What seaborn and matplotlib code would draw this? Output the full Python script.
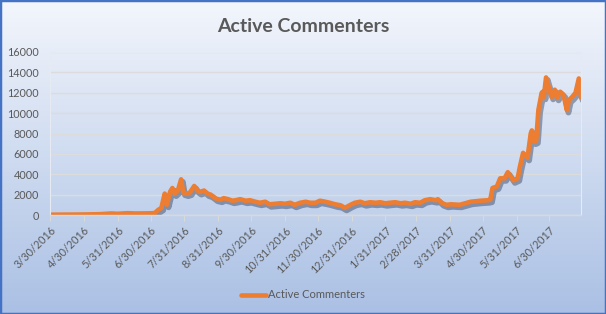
import numpy as np
import pandas as pd
import matplotlib
matplotlib.use("Agg")
import matplotlib.pyplot as plt
import matplotlib.patheffects as pe
from matplotlib.patches import Rectangle
import seaborn as sns

# ---- data ----
dates = [
    "2016-03-30", "2016-04-17", "2016-04-30", "2016-05-15", "2016-05-25", "2016-05-31",
    "2016-06-09", "2016-06-16", "2016-06-25", "2016-07-01", "2016-07-04", "2016-07-07",
    "2016-07-10", "2016-07-11", "2016-07-13", "2016-07-15", "2016-07-18", "2016-07-20",
    "2016-07-22", "2016-07-25", "2016-07-28", "2016-07-30", "2016-08-02", "2016-08-05",
    "2016-08-09", "2016-08-12", "2016-08-14", "2016-08-18", "2016-08-21", "2016-08-24",
    "2016-08-26", "2016-08-29", "2016-09-02", "2016-09-05", "2016-09-09", "2016-09-13",
    "2016-09-16", "2016-09-20", "2016-09-25", "2016-09-29", "2016-10-04", "2016-10-08",
    "2016-10-13", "2016-10-17", "2016-10-22", "2016-10-27", "2016-10-31", "2016-11-05",
    "2016-11-09", "2016-11-14", "2016-11-19", "2016-11-23", "2016-11-28", "2016-12-02",
    "2016-12-07", "2016-12-11", "2016-12-16", "2016-12-21", "2016-12-25", "2016-12-30",
    "2017-01-03", "2017-01-08", "2017-01-12", "2017-01-17", "2017-01-22", "2017-01-26",
    "2017-01-31", "2017-02-04", "2017-02-09", "2017-02-14", "2017-02-18", "2017-02-23",
    "2017-02-27", "2017-03-04", "2017-03-08", "2017-03-13", "2017-03-18", "2017-03-20",
    "2017-03-24", "2017-03-28", "2017-04-01", "2017-04-09", "2017-04-19", "2017-04-28",
    "2017-05-05", "2017-05-07", "2017-05-09", "2017-05-13", "2017-05-16", "2017-05-20",
    "2017-05-23", "2017-05-28", "2017-06-01", "2017-06-03", "2017-06-06", "2017-06-10",
    "2017-06-13", "2017-06-14", "2017-06-16", "2017-06-18", "2017-06-20", "2017-06-23",
    "2017-06-24", "2017-06-25", "2017-06-27", "2017-06-30", "2017-07-02", "2017-07-05",
    "2017-07-07", "2017-07-10", "2017-07-13", "2017-07-16", "2017-07-18", "2017-07-21",
    "2017-07-24", "2017-07-27", "2017-07-29",
]
active_commenters = [
    30, 40, 50, 80, 150, 120,
    180, 150, 160, 170, 200, 500,
    700, 1200, 2100, 1000, 2300, 2650,
    2100, 2400, 3500, 2200, 2100, 2200,
    2850, 2400, 2250, 2400, 2100, 2000,
    1850, 1600, 1500, 1650, 1550, 1400,
    1450, 1550, 1400, 1450, 1300, 1200,
    1300, 1050, 1100, 1150, 1100, 1200,
    1000, 1200, 1300, 1200, 1200, 1400,
    1300, 1200, 1050, 950, 700, 1000,
    1200, 1300, 1150, 1250, 1200, 1250,
    1150, 1200, 1250, 1150, 1200, 1100,
    1250, 1200, 1450, 1550, 1450, 1550,
    1150, 1000, 1050, 1000, 1300, 1400,
    1450, 1500, 2650, 2800, 3600, 3600,
    4200, 3400, 3600, 4700, 6100, 5600,
    8000, 8300, 7200, 7300, 10300, 12000,
    12100, 11600, 13500, 12400, 11600, 12300,
    11500, 12100, 11800, 10300, 11300, 11600,
    12000, 13400, 11500,
]
tick_dates = [
    "2016-03-30", "2016-04-30", "2016-05-31", "2016-06-30", "2016-07-31", "2016-08-31",
    "2016-09-30", "2016-10-31", "2016-11-30", "2016-12-31", "2017-01-31", "2017-02-28",
    "2017-03-31", "2017-04-30", "2017-05-31", "2017-06-30",
]
tick_labels = [
    "3/30/2016", "4/30/2016", "5/31/2016", "6/30/2016", "7/31/2016", "8/31/2016",
    "9/30/2016", "10/31/2016", "11/30/2016", "12/31/2016", "1/31/2017", "2/28/2017",
    "3/31/2017", "4/30/2017", "5/31/2017", "6/30/2017",
]
y_ticks = [0, 2000, 4000, 6000, 8000, 10000, 12000, 14000, 16000]
series_name = "Active Commenters"
title = "Active Commenters"

df = pd.DataFrame({"date": pd.to_datetime(dates), series_name: active_commenters})

sns.set_theme(style="white")
plt.rcParams["font.family"] = ["Lato", "DejaVu Sans"]

W, H = 606, 314
fig = plt.figure(figsize=(W / 100, H / 100), dpi=100)

# gradient background
bg = fig.add_axes([0, 0, 1, 1], zorder=-10)
top = np.array([243, 246, 252]) / 255
bot = np.array([170, 192, 228]) / 255
t = np.linspace(0, 1, 256)[:, None]
grad = (top[None, :] * (1 - t) + bot[None, :] * t)[:, None, :]
bg.imshow(grad, aspect="auto", extent=[0, 1, 0, 1], origin="upper")
bg.set_axis_off()

left, right = 50 / W, 581 / W
bottom, topy = 1 - 215 / H, 1 - 52 / H
ax = fig.add_axes([left, bottom, right - left, topy - bottom])
ax.set_facecolor("none")

sns.lineplot(data=df, x="date", y=series_name, ax=ax, color="#ED7D31",
             linewidth=3.3, label=series_name, legend=False)
line = ax.lines[0]
line.set_path_effects([
    pe.SimpleLineShadow(offset=(1.2, -1.8), shadow_color="#1c2a4a", alpha=0.4, linewidth=4.2),
    pe.Normal(),
])
line.set_solid_joinstyle("round")
line.set_solid_capstyle("round")

ax.set_ylim(0, 16000)
ax.set_xlim(pd.Timestamp(tick_dates[0]), pd.Timestamp(dates[-1]))
ax.set_yticks(y_ticks)
ax.set_yticklabels([str(v) for v in y_ticks], fontsize=7.8, color="#595959")
ax.set_xticks(pd.to_datetime(tick_dates))
ax.set_xticklabels(tick_labels, fontsize=7.8, color="#595959",
                   rotation=45, ha="right", va="top", rotation_mode="anchor")
ax.tick_params(axis="x", length=4, width=0.8, color="#d9d9d9", pad=3, direction="out", bottom=True)
ax.tick_params(axis="y", length=0, pad=8)
ax.grid(axis="y", color="#dcdcdc", linewidth=1)
ax.set_axisbelow(True)
for s in ["left", "right", "top"]:
    ax.spines[s].set_color("#e6eaf2")
    ax.spines[s].set_linewidth(0.8)
ax.spines["bottom"].set_color("#d9d9d9")
ax.spines["bottom"].set_linewidth(1)
ax.set_xlabel("")
ax.set_ylabel("")

fig.text(0.5, 1 - 26 / H, title, ha="center", va="center", fontsize=14,
         fontweight="bold", color="#595959")

handles, labels = ax.get_legend_handles_labels()
leg = fig.legend(handles, labels, loc="center", bbox_to_anchor=(0.5, 1 - 295 / H),
                 frameon=False, fontsize=8, handlelength=2.2, handletextpad=0.2)
for txt in leg.get_texts():
    txt.set_color("#595959")
for lh in leg.get_lines():
    lh.set_linewidth(3.3)
    lh.set_path_effects([pe.Normal()])

fig.patches.append(Rectangle((0, 0), 1, 1, transform=fig.transFigure, fill=False,
                             edgecolor="#4472C4", linewidth=2.5, zorder=100))

fig.savefig("out.png", dpi=100)
